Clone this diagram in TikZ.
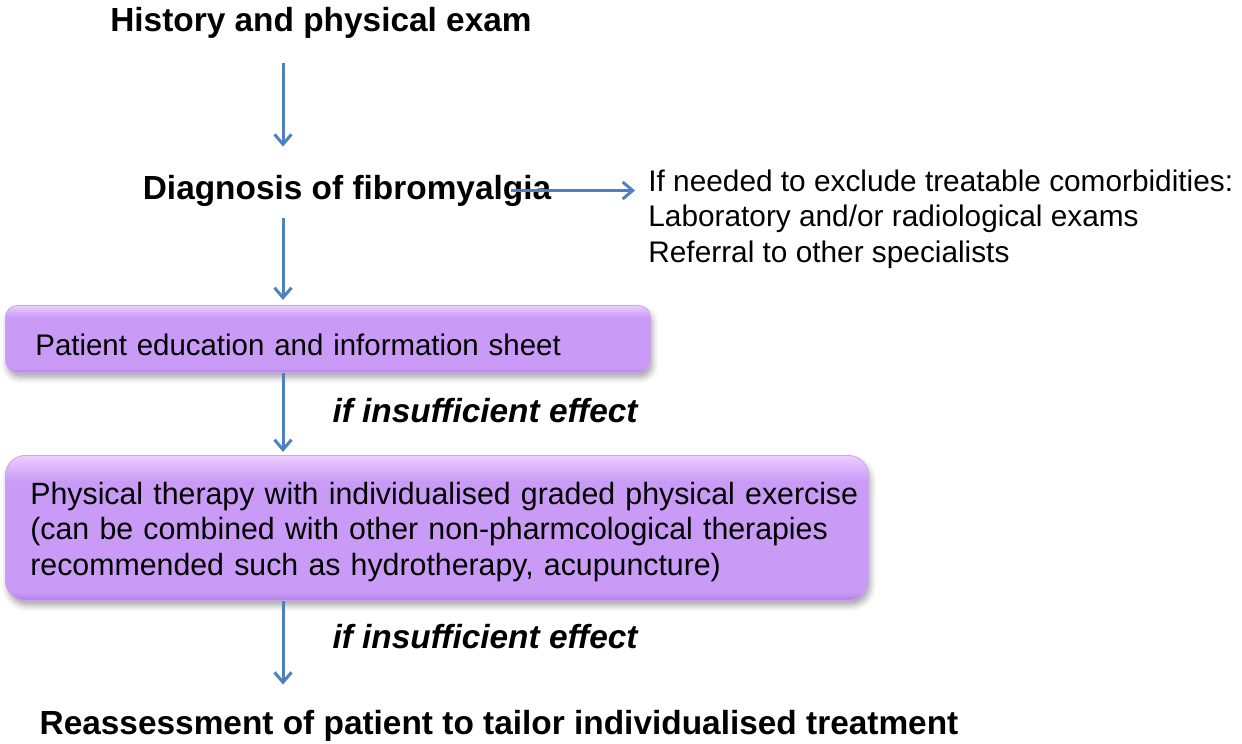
\documentclass[tikz,border=0pt]{standalone}
\usepackage{fontspec}
\setmainfont{Liberation Sans}
\newfontfamily\boxfont{Liberation Sans}[FakeStretch=0.987]
\usetikzlibrary{arrows.meta, positioning, shadows.blur}
\definecolor{arblue}{RGB}{79,129,189}
\definecolor{lilac}{RGB}{201,155,246}
\definecolor{lilachi}{RGB}{238,205,255}
\definecolor{lilaclo}{RGB}{178,128,228}
% light top edge, flat body, darker bottom edge
\pgfdeclareverticalshading{bevel}{100bp}{color(0bp)=(lilaclo); color(25bp)=(lilaclo);
  color(28bp)=(lilac); color(66bp)=(lilac); color(75bp)=(lilachi); color(100bp)=(lilachi)}
\tikzset{
  head/.style ={font=\fontsize{16.7}{20}\selectfont\bfseries, inner sep=0pt,
                text height=12pt, text depth=3.5pt},
  cond/.style ={head, font=\fontsize{16.7}{20}\selectfont\bfseries\itshape},
  note/.style ={font=\fontsize{14.9}{17.75}\selectfont, align=left, inner sep=0pt},
  pbox/.style ={rectangle, rounded corners=6pt, shading=bevel, draw=lilaclo!70,
                line width=0.4pt, font=\boxfont\fontsize{14.9}{17.75}\selectfont, align=left,
                blur shadow={shadow xshift=1pt, shadow yshift=-2.5pt,
                             shadow blur radius=3pt, shadow opacity=35}},
  ar/.style   ={-{Straight Barb[length=5pt, width=8.5pt]}, draw=arblue, line width=1.5pt},
}
\begin{document}
\begin{tikzpicture}
\useasboundingbox (0,0) rectangle (621pt,-372pt);
\coordinate (spine) at (141.5pt,0);
\node[head, anchor=base] (hist) at (160.5pt,-16pt) {History and physical exam};
\node[head, anchor=base] (diag) at (173.5pt,-99.5pt) {Diagnosis of fibromyalgia};
\node[note, anchor=north west] (tests) at (324pt,-84.6pt)
  {If needed to exclude treatable comorbidities:\\
   Laboratory and/or radiological exams\\
   Referral to other specialists};
\node[pbox, anchor=north west, text width=292.5pt, inner xsep=15pt,
      minimum height=33.5pt, text height=20pt, text depth=3pt] (edu) at (2.5pt,-152.5pt)
  {Patient education and information sheet};
\node[cond, anchor=base] (eff1) at (242.5pt,-211pt) {if insufficient effect};
\node[pbox, rounded corners=10pt, anchor=north west, text width=406.5pt,
      inner xsep=12.5pt, minimum height=72.5pt,
      font=\boxfont\fontsize{15.35}{17.75}\selectfont] (care) at (2.5pt,-227.5pt)
  {\rule{0pt}{15pt}\mbox{Physical therapy with individualised graded physical exercise}\\
   \mbox{(can be combined with other non-pharmcological therapies}\\
   \mbox{recommended such as hydrotherapy, acupuncture)}};
\node[cond, anchor=base] (eff2) at (242.5pt,-324pt) {if insufficient effect};
\node[head, anchor=base] (reass) at (249.5pt,-367pt)
  {Reassessment of patient to tailor individualised treatment};
\draw[ar, shorten <=12pt, shorten >=14pt] (hist.south -| spine) -- (diag.north -| spine);
\draw[ar, shorten <=6pt, shorten >=2.5pt] (diag.south -| spine) -- (edu.north -| spine);
\draw[ar, shorten >=1.5pt] (edu.south -| spine) -- (care.north -| spine);
\draw[ar, shorten >=12.5pt] (care.south -| spine) -- (reass.north -| spine);
\draw[ar, shorten >=6.5pt] ([xshift=-20.5pt]diag.east) -- (diag.east -| tests.west);
\end{tikzpicture}
\end{document}
